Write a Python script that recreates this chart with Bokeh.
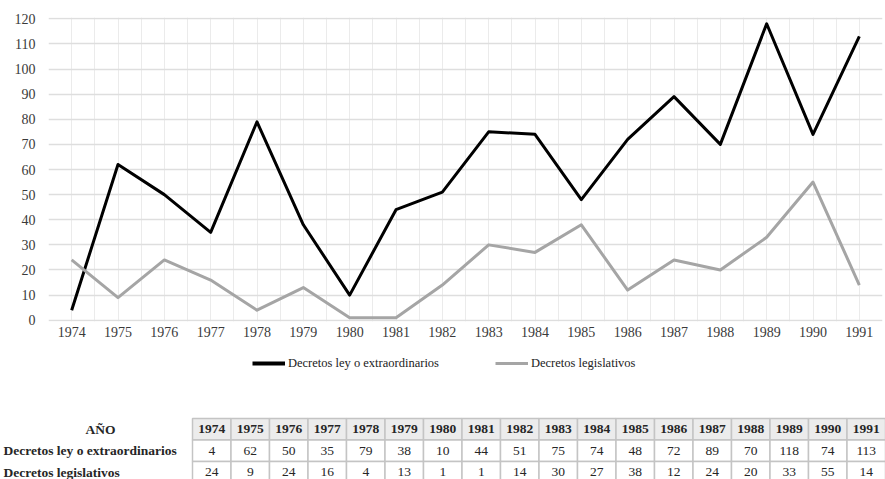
from bokeh.plotting import figure
from bokeh.models import Range1d, FixedTicker, Legend, LegendItem
from bokeh.core.properties import value
from bokeh.embed import file_html
from bokeh.resources import INLINE

# ---- data ----
years = [1974, 1975, 1976, 1977, 1978, 1979, 1980, 1981, 1982,
         1983, 1984, 1985, 1986, 1987, 1988, 1989, 1990, 1991]
decretos_ley = [4, 62, 50, 35, 79, 38, 10, 44, 51, 75, 74, 48, 72, 89, 70, 118, 74, 113]
decretos_leg = [24, 9, 24, 16, 4, 13, 1, 1, 14, 30, 27, 38, 12, 24, 20, 33, 55, 14]
series_names = ["Decretos ley o extraordinarios", "Decretos legislativos"]
series_colors = ["#000000", "#a5a5a5"]
y_ticks = [0, 10, 20, 30, 40, 50, 60, 70, 80, 90, 100, 110, 120]
table_header_label = "AÑO"

FONT = "Liberation Serif"

# ---- chart ----
p = figure(width=885, height=345, output_backend="svg", toolbar_location=None,
           x_range=Range1d(years[0] - 0.5, years[-1] + 0.5),
           y_range=Range1d(-0.5, 120.5),
           min_border_left=48, min_border_right=3, min_border_top=17,
           min_border_bottom=24)
p.outline_line_color = None

half_ticks = [y - 0.5 for y in years] + [years[-1] + 0.5]
p.xaxis.ticker = FixedTicker(ticks=years, minor_ticks=half_ticks)
p.yaxis.ticker = FixedTicker(ticks=y_ticks)

p.xgrid.grid_line_color = "#ebebeb"
p.xgrid.grid_line_width = 1
p.xgrid.minor_grid_line_color = "#ebebeb"
p.xgrid.minor_grid_line_width = 1
p.ygrid.grid_line_color = "#dedede"
p.ygrid.grid_line_width = 1.5

for ax in (p.xaxis[0], p.yaxis[0]):
    ax.axis_line_color = None
    ax.major_tick_line_color = None
    ax.minor_tick_line_color = None
    ax.major_tick_out = 0
    ax.minor_tick_out = 0
    ax.major_label_text_font = FONT
    ax.major_label_text_font_size = "14px"
    ax.major_label_text_color = "#3a3a3a"
p.yaxis.major_label_standoff = 13
p.xaxis.major_label_standoff = 5

p.line(years, decretos_ley, line_color=series_colors[0], line_width=3, line_join="round")
p.line(years, decretos_leg, line_color=series_colors[1], line_width=3, line_join="round")

# ---- legend strip (renderers lie outside this strip's visible range) ----
lf = figure(width=885, height=45, output_backend="svg", toolbar_location=None,
            x_range=Range1d(0, 885), y_range=Range1d(0, 45),
            min_border=0, min_border_left=0, min_border_right=0,
            min_border_top=0, min_border_bottom=0)
lf.axis.visible = False
lf.grid.visible = False
lf.outline_line_color = None
lr1 = lf.line(years, decretos_ley, line_color=series_colors[0], line_width=4)
lr2 = lf.line(years, decretos_leg, line_color=series_colors[1], line_width=3)
legend = Legend(items=[LegendItem(label=series_names[0], renderers=[lr1]),
                       LegendItem(label=series_names[1], renderers=[lr2])],
                orientation="horizontal", location=(252, 17),
                border_line_color=None, background_fill_alpha=0,
                label_text_font=FONT, label_text_font_size="12.5px",
                label_text_color="#222222",
                glyph_width=33, label_standoff=3, spacing=56,
                padding=0, margin=0)
lf.add_layout(legend, "center")

# ---- data table drawn below ----
t = figure(width=885, height=89, output_backend="svg", toolbar_location=None,
           x_range=Range1d(0, 885), y_range=Range1d(89, 0),
           min_border=0, min_border_left=0, min_border_right=0,
           min_border_top=0, min_border_bottom=0)
t.axis.visible = False
t.grid.visible = False
t.outline_line_color = None

tbl_left = 192.0
col_w = 38.5
tbl_top = 28.0
row_h = 21.5

n = len(years)
lefts = [tbl_left + i * col_w for i in range(n)]
rights = [l + col_w for l in lefts]
centers = [l + col_w / 2 for l in lefts]

rows = [
    ([str(y) for y in years], "#ececec", "bold"),
    ([str(v) for v in decretos_ley], "#ffffff", "normal"),
    ([str(v) for v in decretos_leg], "#ffffff", "normal"),
]
for ri, (labels, fill, style) in enumerate(rows):
    top = tbl_top + ri * row_h
    bot = top + row_h
    t.quad(left=lefts, right=rights, top=[top] * n, bottom=[bot] * n,
           fill_color=fill, line_color="#c4c4c4", line_width=1.5)
    t.text(x=centers, y=[top + row_h / 2] * n, text=labels,
           text_align="center", text_baseline="middle",
           text_font=value(FONT), text_font_size="13.5px",
           text_font_style=style, text_color="#262626")

row_labels = [table_header_label] + series_names
t.text(x=[100], y=[tbl_top + row_h / 2], text=[row_labels[0]],
       text_align="center", text_baseline="middle",
       text_font=value(FONT), text_font_size="13.5px",
       text_font_style="bold", text_color="#262626")
t.text(x=[3, 3], y=[tbl_top + 1.5 * row_h, tbl_top + 2.5 * row_h],
       text=row_labels[1:], text_align="left", text_baseline="middle",
       text_font=value(FONT), text_font_size="13.5px",
       text_font_style="bold", text_color="#262626")

open("out.html", "w").write(file_html([p, lf, t], INLINE))
